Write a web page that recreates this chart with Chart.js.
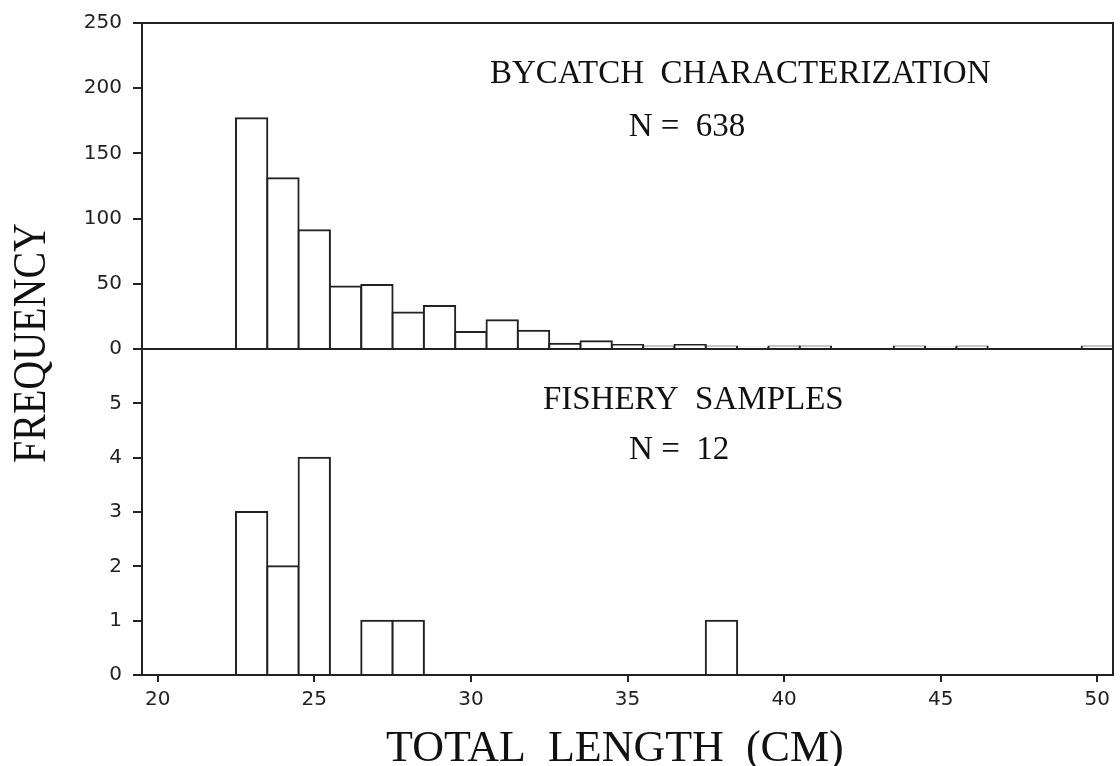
<!DOCTYPE html>
<html>
<head>
<meta charset="utf-8">
<script src="https://cdn.jsdelivr.net/npm/chart.js@4/dist/chart.umd.min.js"></script>
<style>
  html, body { margin: 0; background: #fff; }
  #wrap { width: 1120px; height: 766px; }
</style>
</head>
<body>
<div id="wrap"><canvas id="hist" width="1120" height="766"></canvas></div>
<script>
// 1-cm total length classes, bar centred on each class
const lengths = [23, 24, 25, 26, 27, 28, 29, 30, 31, 32, 33, 34, 35, 36,
                 37, 38, 39, 40, 41, 42, 43, 44, 45, 46, 47, 48, 49, 50];
// bycatch characterization, N = 638
const bycatch = [177, 131, 91, 48, 49, 28, 33, 13, 22, 14, 4, 6, 3, 2,
                 3, 2, 1, 2, 2, 0, 0, 2, 1, 2, 0, 0, 0, 2];
// fishery samples, N = 12
const fishery = [3, 2, 4, 0, 1, 1, 0, 0, 0, 0, 0, 0, 0, 0,
                 0, 1, 0, 0, 0, 0, 0, 0, 0, 0, 0, 0, 0, 0];

const xTicks = [20, 25, 30, 35, 40, 45, 50];
const topTicks = [0, 50, 100, 150, 200, 250];
const bottomTicks = [0, 1, 2, 3, 4, 5];

// panel captions, placed in each panel's own units
const notes = [
  { text: 'BYCATCH  CHARACTERIZATION', axis: 'yTop', x: 38.6, y: 204 },
  { text: 'N =  638', axis: 'yTop', x: 36.9, y: 163 },
  { text: 'FISHERY  SAMPLES', axis: 'yBot', x: 37.1, y: 4.9 },
  { text: 'N =  12', axis: 'yBot', x: 36.65, y: 3.98 }
];

const ink = '#222';
const serif = '"Liberation Serif", "Times New Roman", serif';
const tickFont = { family: '"DejaVu Sans", sans-serif', size: 20 };

const barStyle = {
  backgroundColor: '#fff',
  borderColor: ink,
  borderWidth: 2,
  borderSkipped: 'start',
  inflateAmount: 1,
  barPercentage: 1,
  categoryPercentage: 1,
  grouped: false
};

function tickGrid(len){
  return { display: true, drawOnChartArea: false, drawTicks: true, offset: false,
           color: ink, lineWidth: 2, tickLength: len };
}

// outer box, shared baseline between panels, captions and axis titles
const frame = {
  id: 'frame',
  afterDatasetsDraw(chart){
    const { ctx, chartArea: a, scales } = chart;
    ctx.save();
    ctx.strokeStyle = ink;
    ctx.lineWidth = 2;
    ctx.strokeRect(a.left, a.top, a.right - a.left, a.bottom - a.top);
    const mid = scales.yTop.getPixelForValue(0);
    ctx.beginPath();
    ctx.moveTo(a.left, mid);
    ctx.lineTo(a.right, mid);
    ctx.stroke();

    ctx.fillStyle = '#111';
    ctx.textAlign = 'center';
    ctx.textBaseline = 'alphabetic';
    ctx.font = '33px ' + serif;
    notes.forEach(n => {
      ctx.fillText(n.text, scales.x.getPixelForValue(n.x), scales[n.axis].getPixelForValue(n.y));
    });

    ctx.font = '44px ' + serif;
    ctx.fillText('TOTAL  LENGTH  (CM)', a.left + (a.right - a.left) * 0.487, chart.height - 5);

    ctx.font = '46px ' + serif;
    const label = 'FREQUENCY';
    const w = ctx.measureText(label).width;
    ctx.translate(45, (a.top + a.bottom) / 2 - 6);
    ctx.rotate(-Math.PI / 2);
    ctx.scale(240 / w, 1);
    ctx.fillText(label, 0, 0);
    ctx.restore();
  }
};

new Chart(document.getElementById('hist'), {
  type: 'bar',
  data: {
    datasets: [
      Object.assign({ label: 'Bycatch', yAxisID: 'yTop',
        data: lengths.map((x, i) => ({ x, y: bycatch[i] })) }, barStyle),
      Object.assign({ label: 'Fishery', yAxisID: 'yBot',
        data: lengths.map((x, i) => ({ x, y: fishery[i] })) }, barStyle)
    ]
  },
  options: {
    responsive: false,
    animation: false,
    layout: { padding: { top: 22, right: 7, left: 0, bottom: 0 } },
    plugins: { legend: { display: false }, tooltip: { enabled: false } },
    scales: {
      x: {
        type: 'linear', min: 19.5, max: 50.5, offset: false,
        afterBuildTicks: s => { s.ticks = xTicks.map(v => ({ value: v })); },
        afterFit: s => { s.height = 91; },
        grid: tickGrid(7),
        border: { display: false },
        ticks: { font: tickFont, color: ink, padding: 6, maxRotation: 0, autoSkip: false }
      },
      yTop: {
        type: 'linear', position: 'left', stack: 'freq', stackWeight: 1, weight: 1,
        min: 0, max: 250,
        afterBuildTicks: s => { s.ticks = topTicks.map(v => ({ value: v })); },
        afterFit: s => { s.width = 142; },
        grid: tickGrid(9),
        border: { display: false },
        ticks: { font: tickFont, color: ink, padding: 11 }
      },
      yBot: {
        type: 'linear', position: 'left', stack: 'freq', stackWeight: 1, weight: 0,
        min: 0, max: 6,
        afterBuildTicks: s => { s.ticks = bottomTicks.map(v => ({ value: v })); },
        afterFit: s => { s.width = 142; },
        grid: tickGrid(9),
        border: { display: false },
        ticks: { font: tickFont, color: ink, padding: 11 }
      }
    }
  },
  plugins: [frame]
});
</script>
</body>
</html>
